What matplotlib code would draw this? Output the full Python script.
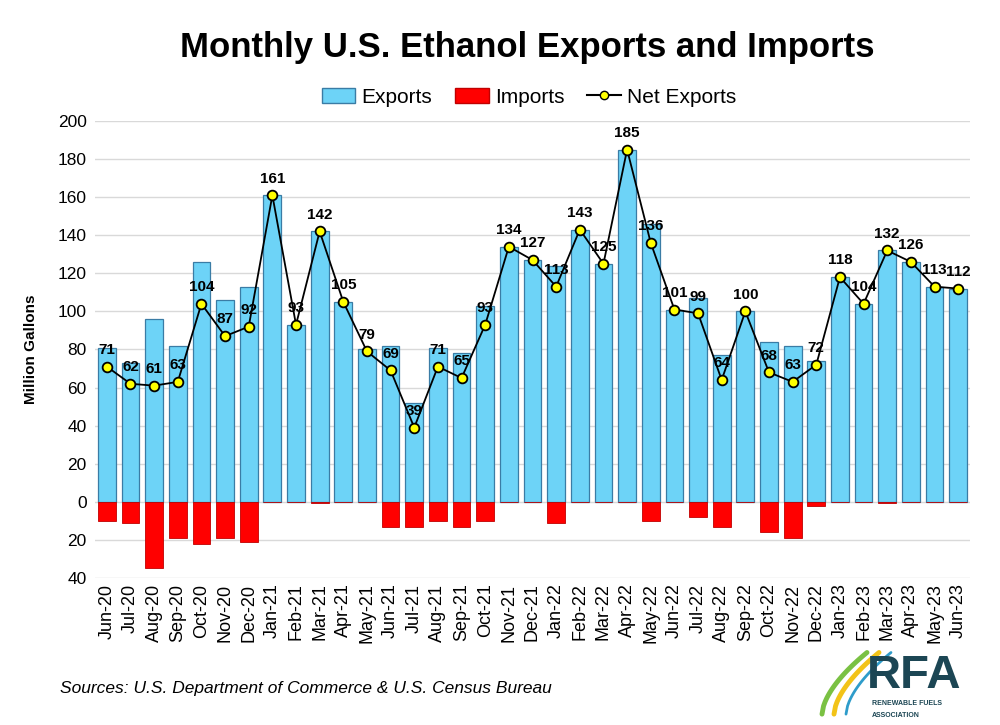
import numpy as np
import matplotlib
matplotlib.use("Agg")
import matplotlib.pyplot as plt
from matplotlib.lines import Line2D
from matplotlib.patches import Patch
from matplotlib.ticker import FuncFormatter, MultipleLocator

plt.rcParams['font.family'] = ['Liberation Sans', 'DejaVu Sans']

months = ["Jun-20", "Jul-20", "Aug-20", "Sep-20", "Oct-20", "Nov-20", "Dec-20",
          "Jan-21", "Feb-21", "Mar-21", "Apr-21", "May-21", "Jun-21", "Jul-21",
          "Aug-21", "Sep-21", "Oct-21", "Nov-21", "Dec-21", "Jan-22", "Feb-22",
          "Mar-22", "Apr-22", "May-22", "Jun-22", "Jul-22", "Aug-22", "Sep-22",
          "Oct-22", "Nov-22", "Dec-22", "Jan-23", "Feb-23", "Mar-23", "Apr-23",
          "May-23", "Jun-23"]

exports = [81, 73, 96, 82, 126, 106, 113,
           161, 93, 142, 105, 80, 82, 52,
           81, 78, 103, 134, 127, 124, 143,
           125, 185, 146, 101, 107, 77, 100,
           84, 82, 74, 118, 104, 132, 126,
           113, 112]

imports = [10, 11, 35, 19, 22, 19, 21,
           0.3, 0.3, 0.6, 0.3, 0.3, 13, 13,
           10, 13, 10, 0.3, 0.3, 11, 0.3,
           0.3, 0.3, 10, 0.3, 8, 13, 0.3,
           16, 19, 2, 0.3, 0.3, 0.6, 0.3,
           0.3, 0.3]

net_exports = [71, 62, 61, 63, 104, 87, 92,
               161, 93, 142, 105, 79, 69, 39,
               71, 65, 93, 134, 127, 113, 143,
               125, 185, 136, 101, 99, 64, 100,
               68, 63, 72, 118, 104, 132, 126,
               113, 112]

fig = plt.figure(figsize=(10, 7.25), dpi=100)
ax = fig.add_axes([0.095, 0.2028, 0.875, 0.6303])

x = np.arange(len(months))
ax.bar(x, exports, width=0.75, color="#6DD3F7", edgecolor="#3A7CA5", linewidth=0.9, zorder=2)
ax.bar(x, [-v for v in imports], width=0.75, color="#FF0000", edgecolor="#C00000", linewidth=0.6, zorder=2)
ax.plot(x, net_exports, color="black", linewidth=1.3, marker="o", markersize=7,
        markerfacecolor="#FFFF00", markeredgecolor="black", markeredgewidth=1.3, zorder=4)

for xi, v in zip(x, net_exports):
    ax.annotate(str(v), (xi, v), xytext=(0, 7), textcoords="offset points",
                ha="center", va="bottom", fontsize=11, fontweight="bold", zorder=5)

ax.set_xlim(-0.5, len(months) - 0.5)
ax.set_ylim(-40, 200)
ax.yaxis.set_major_locator(MultipleLocator(20))
ax.yaxis.set_major_formatter(FuncFormatter(lambda v, p: f"{abs(int(round(v)))}"))
ax.grid(axis="y", color="#D9D9D9", linewidth=1.0, zorder=0)
ax.set_axisbelow(True)
for s in ax.spines.values():
    s.set_visible(False)
ax.tick_params(axis="both", length=0)
ax.tick_params(axis="y", labelsize=12.5, pad=6)
ax.set_xticks(x)
ax.set_xticklabels(months, rotation=90, fontsize=13)
ax.tick_params(axis="x", pad=4)
ax.set_ylabel("Million Gallons", fontsize=11, fontweight="bold", labelpad=14)

fig.text(0.527, 0.935, "Monthly U.S. Ethanol Exports and Imports", ha="center", va="center",
         fontsize=25, fontweight="bold")

handles = [Patch(facecolor="#6DD3F7", edgecolor="#3A7CA5", label="Exports"),
           Patch(facecolor="#FF0000", edgecolor="#C00000", label="Imports"),
           Line2D([0], [0], color="black", marker="o", markerfacecolor="#FFFF00",
                  markeredgecolor="black", markersize=6, label="Net Exports")]
fig.legend(handles=handles, loc="center", bbox_to_anchor=(0.529, 0.866), ncol=3,
           frameon=False, fontsize=15, handlelength=1.6, handletextpad=0.3,
           columnspacing=1.1)

fig.text(0.06, 0.051, "Sources: U.S. Department of Commerce & U.S. Census Bureau",
         fontsize=12.5, style="italic", ha="left", va="center")

# RFA logo (approximate)
t = np.linspace(0, 1, 30)
for dx, col, lw in [(0.0, "#7AC143", 3.5), (0.012, "#F2C318", 3.5), (0.024, "#2E9CCA", 2.0)]:
    xs = 0.822 + dx + 0.045 * t
    ys = 0.015 + 0.085 * t ** 0.6
    fig.add_artist(Line2D(xs, ys, transform=fig.transFigure, color=col, linewidth=lw,
                          solid_capstyle="round"))
fig.text(0.867, 0.068, "RFA", fontsize=34, fontweight="bold", color="#1C4654",
         ha="left", va="center")
fig.text(0.872, 0.029, "RENEWABLE FUELS", fontsize=5, fontweight="bold", color="#1C4654",
         ha="left", va="center")
fig.text(0.872, 0.013, "ASSOCIATION", fontsize=5, fontweight="bold", color="#1C4654",
         ha="left", va="center")

fig.savefig("out.png", dpi=100, facecolor="white")
